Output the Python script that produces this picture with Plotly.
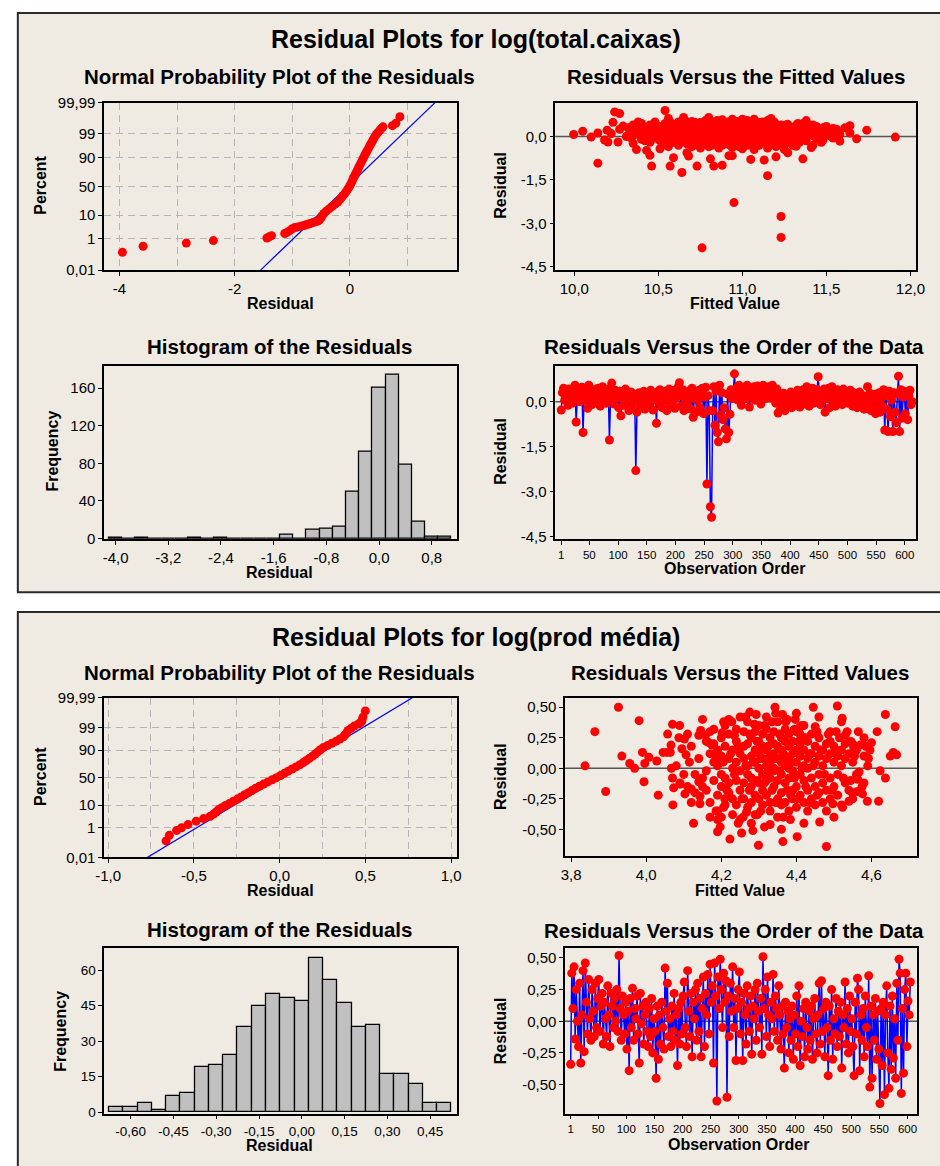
import plotly.graph_objects as go
from statistics import NormalDist

FONT = "Liberation Sans"
W, H = 940, 1166
RED = "#FF0000"
BLUE = "#0000FF"
PANEL_BG = "#EFEBE2"
GRID = "#B4B4B4"
MSIZE = 9

# ======================= PANEL 1 : log(total.caixas) =======================
npp1_points = [
    (-3.95, 0.17), (-3.59, 0.39), (-2.84, 0.59), (-2.37, 0.80),
    (-1.44, 1.10), (-1.40, 1.25), (-1.36, 1.43),
    (-1.13, 1.83), (-1.09, 2.05), (-1.05, 2.40), (-1.00, 3.00),
    (-0.95, 3.40), (-0.90, 3.60), (-0.85, 3.85), (-0.80, 4.10), (-0.76, 4.40), (-0.72, 4.70),
    (-0.68, 5.00), (-0.64, 5.40), (-0.60, 5.80), (-0.56, 6.20), (-0.53, 6.68),
    (-0.50, 8.08), (-0.48, 9.68), (-0.45, 11.51), (-0.41, 13.57), (-0.36, 15.87), (-0.31, 18.41),
    (-0.26, 21.19), (-0.21, 24.20), (-0.175, 27.43), (-0.145, 30.85), (-0.115, 34.46), (-0.082, 38.21),
    (-0.055, 42.07), (-0.03, 46.02), (-0.005, 50.0), (0.015, 53.98), (0.035, 57.93), (0.052, 61.79),
    (0.07, 65.54), (0.09, 69.15), (0.108, 72.57), (0.128, 75.80), (0.146, 78.81), (0.165, 81.59),
    (0.185, 84.13), (0.205, 86.43), (0.225, 88.49), (0.243, 90.32), (0.262, 91.92), (0.283, 93.32),
    (0.305, 94.52), (0.326, 95.54), (0.347, 96.41), (0.367, 97.13), (0.39, 97.72), (0.41, 98.21),
    (0.432, 98.61), (0.46, 98.93), (0.49, 99.18), (0.525, 99.38), (0.56, 99.53), (0.575, 99.59),
    (0.74, 99.65), (0.80, 99.75), (0.87, 99.90),
]
npp1_line_resid = [-1.55, 1.48]
npp1_line_pct = [0.01, 99.99]

hist1_mid = [-4.0, -3.8, -3.6, -3.4, -3.2, -3.0, -2.8, -2.6, -2.4, -2.2, -2.0, -1.8, -1.6,
             -1.4, -1.2, -1.0, -0.8, -0.6, -0.4, -0.2, 0.0, 0.2, 0.4, 0.6, 0.8, 1.0]
hist1_count = [1, 0, 1, 0, 0, 0, 1, 0, 1, 0, 0, 0, 0,
               4, 0, 9, 10, 12, 50, 92, 160, 174, 78, 18, 2, 2]
hist1_binw = 0.2

fit1_points = [
    (9.996, 0.07), (10.05, 0.18), (10.10, -0.02), (10.14, 0.12), (10.14, -0.92), (10.18, -0.12),
    (10.20, -0.19), (10.195, 0.22), (10.22, 0.10), (10.23, 0.49), (10.24, 0.85), (10.27, 0.79),
    (10.26, -0.19), (10.27, 0.25), (10.29, 0.36), (10.31, 0.00),
    (10.32, 0.05), (10.32, 0.30), (10.34, -0.05),
    (10.35, -0.23), (10.35, 0.15), (10.35, 0.40),
    (10.37, -0.45), (10.37, 0.08), (10.37, 0.28), (10.38, 0.50), (10.39, 0.12),
    (10.40, -0.10), (10.40, 0.20), (10.40, 0.45), (10.41, 0.35), (10.42, -0.15),
    (10.43, -0.48), (10.43, 0.02), (10.43, 0.30), (10.44, 0.20),
    (10.45, -0.65), (10.45, -0.20), (10.45, 0.15), (10.45, 0.40),
    (10.46, -1.02), (10.47, 0.05),
    (10.48, -0.05), (10.48, 0.25), (10.48, 0.50), (10.50, 0.20),
    (10.51, -0.42), (10.51, -0.15), (10.51, 0.10), (10.51, 0.35), (10.52, -0.05), (10.53, 0.30),
    (10.54, 0.90), (10.54, -0.28), (10.54, 0.00), (10.54, 0.22), (10.54, 0.45), (10.55, 0.12),
    (10.56, -0.35), (10.56, -0.10), (10.56, 0.30), (10.56, 0.62), (10.57, 0.50), (10.58, -0.15),
    (10.57, -1.02),
    (10.59, -0.73), (10.59, -0.20), (10.59, 0.05), (10.59, 0.18), (10.59, 0.42),
    (10.60, 0.35), (10.61, 0.10), (10.61, -0.12),
    (10.62, -0.30), (10.62, -0.05), (10.62, 0.25), (10.62, 0.50), (10.63, 0.42), (10.63, 0.02),
    (10.64, -1.24), (10.64, -0.15), (10.64, 0.12), (10.64, 0.35),
    (10.65, 0.66), (10.66, 0.28), (10.66, -0.08), (10.66, 0.55),
    (10.67, -0.56), (10.67, -0.25), (10.67, 0.00), (10.67, 0.20), (10.67, 0.45),
    (10.68, -0.67), (10.69, 0.15), (10.69, -0.25), (10.69, 0.40),
    (10.70, -0.35), (10.70, -0.10), (10.70, 0.08), (10.70, 0.30), (10.70, 0.52),
    (10.71, 0.20), (10.72, -0.05), (10.72, 0.48),
    (10.73, -1.02), (10.73, -0.20), (10.73, 0.00), (10.73, 0.15), (10.73, 0.40),
    (10.74, 0.30), (10.74, -0.30), (10.74, 0.05),
    (10.75, -0.40), (10.75, -0.05), (10.75, 0.25), (10.75, 0.48),
    (10.76, -3.84), (10.77, 0.18), (10.77, -0.20), (10.77, 0.45),
    (10.78, -0.28), (10.78, -0.12), (10.78, 0.10), (10.78, 0.35), (10.78, 0.55),
    (10.79, 0.28), (10.79, -0.05),
    (10.80, 0.66), (10.80, -0.35), (10.80, 0.02), (10.80, 0.20), (10.80, 0.42),
    (10.81, -0.77), (10.82, 0.38), (10.82, 0.05), (10.82, -0.30),
    (10.83, -1.02), (10.83, -0.22), (10.83, -0.05), (10.83, 0.15), (10.83, 0.30), (10.83, 0.50),
    (10.84, 0.22), (10.84, -0.15), (10.85, 0.55),
    (10.86, -0.40), (10.86, -0.10), (10.86, 0.08), (10.86, 0.25), (10.86, 0.45),
    (10.87, 0.15), (10.87, -0.22),
    (10.88, -0.99), (10.88, -0.30), (10.88, 0.00), (10.88, 0.35), (10.88, 0.58),
    (10.89, 0.42), (10.89, 0.08), (10.90, -0.10), (10.90, 0.32),
    (10.91, -0.18), (10.91, 0.12), (10.91, 0.28), (10.91, 0.50),
    (10.92, -0.66), (10.92, 0.20), (10.92, -0.28), (10.93, 0.48), (10.93, 0.05),
    (10.94, -0.66), (10.94, -0.38), (10.94, -0.05), (10.94, 0.18), (10.94, 0.40), (10.94, 0.60),
    (10.95, -2.28), (10.95, 0.25), (10.95, -0.15), (10.96, 0.40), (10.96, -0.02),
    (10.97, -0.25), (10.97, 0.05), (10.97, 0.30), (10.97, 0.52),
    (10.98, 0.15), (10.98, -0.35), (10.99, 0.32), (10.99, 0.00),
    (11.00, -0.42), (11.00, -0.12), (11.00, 0.10), (11.00, 0.22), (11.00, 0.45), (11.00, 0.60),
    (11.01, 0.38), (11.01, -0.22), (11.02, 0.15), (11.02, 0.50),
    (11.03, -0.30), (11.03, 0.00), (11.03, 0.35), (11.03, 0.55),
    (11.04, 0.25), (11.04, -0.10),
    (11.05, -0.79), (11.05, -0.20), (11.05, 0.15), (11.05, 0.42),
    (11.06, 0.05), (11.06, 0.32),
    (11.07, -0.45), (11.07, -0.05), (11.07, 0.25), (11.07, 0.60),
    (11.08, 0.15), (11.08, -0.25), (11.09, 0.40), (11.09, -0.10),
    (11.10, -0.30), (11.10, 0.05), (11.10, 0.20), (11.10, 0.48),
    (11.11, 0.30), (11.11, -0.02), (11.12, 0.50), (11.12, -0.20),
    (11.13, -0.81), (11.13, -0.15), (11.13, 0.10), (11.13, 0.38),
    (11.14, 0.20), (11.14, -0.05),
    (11.15, -1.35), (11.15, -0.40), (11.15, 0.00), (11.15, 0.30), (11.15, 0.55),
    (11.16, 0.40), (11.16, -0.25),
    (11.17, -0.22), (11.17, 0.15), (11.17, 0.62), (11.17, 0.45),
    (11.18, 0.05), (11.18, 0.30), (11.19, -0.12), (11.19, 0.50),
    (11.20, -0.70), (11.20, -0.35), (11.20, -0.05), (11.20, 0.25),
    (11.21, 0.15), (11.21, 0.38), (11.22, -0.28),
    (11.23, -3.48), (11.23, -2.76), (11.23, -0.15), (11.23, 0.10), (11.23, 0.40),
    (11.24, 0.22), (11.24, -0.05),
    (11.25, -0.45), (11.25, -0.25), (11.25, 0.05), (11.25, 0.30), (11.26, 0.40),
    (11.27, -0.56), (11.27, -0.10), (11.27, 0.18), (11.27, 0.42),
    (11.28, 0.05), (11.28, -0.22), (11.29, 0.32),
    (11.30, -0.30), (11.30, 0.00), (11.30, 0.25), (11.31, 0.10),
    (11.32, -0.34), (11.32, -0.05), (11.32, 0.15), (11.32, 0.38), (11.33, 0.45),
    (11.34, -0.20), (11.34, 0.10), (11.34, 0.30), (11.35, 0.20),
    (11.36, -0.77), (11.36, 0.00), (11.36, 0.45), (11.37, -0.08),
    (11.38, -0.15), (11.38, 0.20), (11.38, 0.55), (11.39, 0.35), (11.40, 0.15),
    (11.41, -0.38), (11.41, 0.05), (11.41, 0.30),
    (11.42, -0.30), (11.42, 0.15), (11.42, 0.40), (11.43, 0.00), (11.44, 0.35),
    (11.45, -0.08), (11.45, 0.25), (11.46, 0.15), (11.47, -0.20),
    (11.48, -0.12), (11.48, 0.10), (11.48, 0.30), (11.50, 0.35),
    (11.51, 0.05), (11.51, 0.22), (11.53, 0.00),
    (11.54, -0.05), (11.54, 0.15), (11.54, 0.28), (11.56, 0.25),
    (11.58, -0.16), (11.58, 0.08),
    (11.61, 0.30), (11.64, 0.37), (11.64, 0.12), (11.68, -0.08), (11.74, 0.22), (11.91, -0.02),
]

# residuals in observation order (observations 1, 3, 5, ...)
order1_resid = [
    -0.28, 0.30, 0.45, 0.05, 0.38, 0.20, -0.12, 0.42, 0.10, 0.28,
    -0.05, 0.35, 0.55, -0.68, 0.15, 0.40, 0.00, 0.30, 0.48, -1.03,
    0.22, 0.05, 0.35, -0.22, 0.55, 0.12, 0.28, -0.10, 0.40, 0.18,
    0.02, 0.32, 0.45, 0.10, -0.15, 0.25, 0.50, 0.08, 0.35, -0.05,
    0.20, 0.42, -1.28, 0.15, 0.62, 0.30, -0.08, 0.38, 0.12, 0.25,
    -0.20, 0.35, -0.47, 0.10, 0.28, -0.12, 0.42, 0.05, 0.20, -0.30,
    0.15, 0.32, -0.18, 0.05, 0.25, -2.30, -0.35, 0.12, 0.30, -0.10,
    0.22, 0.00, 0.35, -0.25, 0.18, 0.08, 0.30, -0.15, 0.38, 0.05,
    -0.28, 0.20, 0.12, -0.72, 0.32, -0.05, 0.40, 0.15, -0.20, 0.28,
    0.05, 0.35, -0.30, 0.18, 0.42, -0.12, 0.25, 0.00, 0.38, -0.22,
    0.12, 0.30, 0.50, 0.63, -0.15, 0.20, 0.40, -0.30, 0.08, 0.25,
    -0.10, 0.35, 0.15, -0.25, 0.45, -0.52, 0.10, 0.30, -0.35, 0.05,
    0.38, -0.20, 0.25, 0.45, -0.40, 0.15, 0.48, -2.75, 0.20, -0.30,
    -3.51, -3.86, -0.30, 0.50, -0.79, 0.35, -1.03, -1.34, 0.55, -0.45,
    0.30, -0.60, -0.20, -0.91, -1.24, 0.25, -1.03, -0.42, 0.40, 0.10,
    0.35, 0.93, 0.20, 0.45, 0.05, 0.55, 0.30, -0.12, 0.48, 0.22,
    0.40, 0.10, 0.55, 0.28, -0.18, 0.45, 0.15, 0.35, 0.50, 0.05,
    0.30, 0.52, 0.18, 0.42, -0.08, 0.35, 0.55, 0.25, 0.10, 0.45,
    0.30, 0.50, 0.12, 0.40, 0.55, 0.20, 0.35, -0.05, 0.42, -0.38,
    0.15, -0.25, 0.05, -0.15, 0.28, -0.30, 0.10, 0.22, -0.12, 0.05,
    0.32, -0.20, 0.15, 0.00, 0.28, -0.10, 0.38, 0.08, -0.18, 0.25,
    0.05, 0.40, -0.08, 0.30, 0.50, 0.12, -0.15, 0.35, 0.22, 0.45,
    -0.05, 0.30, 0.15, 0.40, 0.83, 0.20, -0.10, 0.35, 0.05, 0.42,
    -0.35, 0.25, 0.10, 0.45, -0.20, 0.30, 0.50, 0.05, 0.35, -0.15,
    0.28, 0.40, 0.02, 0.35, 0.18, -0.10, 0.42, 0.25, 0.08, 0.32,
    -0.05, 0.20, 0.38, 0.10, -0.15, 0.30, 0.05, 0.25, -0.20, 0.15,
    0.32, -0.08, 0.22, 0.00, -0.25, 0.18, 0.10, 0.50, -0.12, 0.28,
    -0.30, 0.15, -0.05, 0.25, -0.40, 0.08, -0.20, 0.30, -0.35, 0.12,
    -0.15, 0.40, -0.95, 0.20, -0.25, -1.00, 0.35, -0.50, 0.05, -1.00,
    0.30, -0.35, -0.70, 0.25, 0.85, -1.00, 0.40, -0.55, 0.15, 0.35,
    -0.40, 0.30, -0.60, 0.20, 0.38, -0.10, 0.00,
]
order1_obs = list(range(1, 2 * len(order1_resid), 2))

# ======================= PANEL 2 : log(prod média) =======================
npp2_points = [
    (-0.662, 0.159), (-0.643, 0.357), (-0.60, 0.695), (-0.572, 0.964), (-0.534, 1.43),
    (-0.486, 2.12), (-0.443, 2.81),
    (-0.405, 3.59), (-0.385, 4.46), (-0.37, 5.48), (-0.357, 6.68), (-0.337, 8.08), (-0.315, 9.68),
    (-0.292, 11.51), (-0.27, 13.57), (-0.246, 15.87), (-0.224, 18.41), (-0.203, 21.19),
    (-0.182, 24.20), (-0.161, 27.43), (-0.14, 30.85), (-0.117, 34.46), (-0.093, 38.21),
    (-0.068, 42.07), (-0.043, 46.02), (-0.018, 50.0), (0.006, 53.98), (0.028, 57.93),
    (0.05, 61.79), (0.073, 65.54), (0.096, 69.15), (0.118, 72.57), (0.138, 75.80),
    (0.156, 78.81), (0.174, 81.59), (0.192, 84.13), (0.208, 86.43), (0.223, 88.49),
    (0.238, 90.32), (0.255, 91.92), (0.28, 93.32), (0.305, 94.52), (0.33, 95.54),
    (0.352, 96.41), (0.372, 97.13), (0.382, 97.72), (0.392, 98.21), (0.40, 98.61),
    (0.418, 98.93), (0.435, 99.18), (0.46, 99.38), (0.473, 99.48), (0.48, 99.60),
    (0.486, 99.76), (0.50, 99.906),
]
npp2_line_resid = [-0.772, 0.774]
npp2_line_pct = [0.01, 99.99]

hist2_mid = [-0.65, -0.60, -0.55, -0.50, -0.45, -0.40, -0.35, -0.30, -0.25, -0.20, -0.15, -0.10,
             -0.05, 0.00, 0.05, 0.10, 0.15, 0.20, 0.25, 0.30, 0.35, 0.40, 0.45, 0.50]
hist2_count = [2, 2, 4, 1, 7, 8, 19, 20, 24, 36, 45, 50,
               48, 47, 65, 56, 46, 36, 37, 16, 16, 12, 4, 4]
hist2_binw = 0.05

fit2_points = [
    (3.837, 0.02), (3.863, 0.30), (3.892, -0.19), (3.926, 0.50), (3.935, 0.10), (3.956, 0.04),
    (3.969, 0.00), (3.981, 0.39), (3.99, 0.13), (3.994, -0.11), (3.996, 0.04), (4.007, 0.09),
    (4.028, 0.06), (4.032, -0.22), (4.045, 0.13), (4.055, 0.13), (4.064, 0.13), (4.057, 0.28),
    (4.066, 0.19), (4.07, 0.36), (4.089, 0.35), (4.071, -0.30), (4.067, 0.00), (4.07, -0.08),
    (4.073, -0.16), (4.087, 0.25), (4.102, 0.24), (4.095, 0.16), (4.106, 0.11), (4.115, 0.05),
    (4.09, -0.13), (4.103, -0.21), (4.11, -0.15), (4.12, -0.17), (4.126, -0.45), (4.13, -0.05),
    (4.14, -0.11), (4.15, -0.08), (4.14, 0.27), (4.145, 0.31), (4.158, 0.27), (4.143, -0.23),
    (4.143, -0.29), (4.167, 0.21), (4.175, 0.19), (4.184, 0.11), (4.193, 0.05), (4.186, -0.35),
    (4.19, -0.42), (4.197, -0.48), (4.19, -0.52), (4.206, 0.38), (4.202, 0.29), (4.206, -0.32),
    (4.209, -0.25), (4.223, -0.58), (4.228, 0.38), (4.235, 0.27), (4.25, 0.42), (4.254, -0.53),
    (4.258, -0.40), (4.267, -0.36), (4.276, 0.46), (4.284, -0.51), (4.293, 0.44), (4.288, 0.36),
    (4.296, -0.38), (4.299, -0.63), (4.33, -0.46), (4.343, 0.50), (4.363, 0.44), (4.372, 0.38),
    (4.364, -0.60), (4.384, -0.42), (4.397, 0.40), (4.393, 0.31), (4.41, 0.34), (4.402, -0.56),
    (4.445, 0.50), (4.45, 0.34), (4.462, -0.44), (4.48, -0.64), (4.49, 0.30), (4.506, 0.30),
    (4.509, 0.51), (4.522, 0.41), (4.497, -0.29), (4.523, -0.32), (4.54, -0.27), (4.549, -0.20),
    (4.562, -0.19), (4.576, -0.21), (4.589, -0.27), (4.619, -0.27), (4.623, -0.02), (4.637, -0.08),
    (4.637, 0.44), (4.615, 0.30), (4.65, 0.10), (4.658, 0.13), (4.667, 0.11), (4.663, 0.34),
    (4.60, 0.21), (4.596, 0.15), (4.592, 0.08), (4.567, -0.03), (4.563, -0.09), (4.53, 0.27),
    (4.545, 0.22), (4.553, 0.17), (4.57, 0.19),
    (4.08, 0.02), (4.10, -0.05), (4.12, 0.18), (4.13, -0.20), (4.14, 0.08), (4.15, -0.15),
    (4.11, 0.28), (4.09, -0.12), (4.12, -0.28), (4.15, 0.40),
    (4.16, 0.22), (4.16, -0.02), (4.16, -0.18),
    (4.17, 0.12), (4.17, -0.28), (4.17, 0.30), (4.17, -0.40),
    (4.18, 0.05), (4.18, -0.10), (4.18, 0.20), (4.18, 0.32),
    (4.19, -0.22), (4.19, 0.15), (4.19, -0.35), (4.19, 0.02),
    (4.20, 0.25), (4.20, -0.05), (4.20, -0.15), (4.20, 0.10), (4.20, -0.40),
    (4.205, 0.05), (4.215, -0.18), (4.225, 0.12), (4.235, -0.05), (4.245, 0.18),
    (4.21, -0.30), (4.21, 0.18), (4.21, -0.08), (4.21, 0.35),
    (4.22, 0.08), (4.22, -0.20), (4.22, 0.28), (4.22, -0.12), (4.22, 0.40),
    (4.23, -0.25), (4.23, 0.00), (4.23, 0.15), (4.23, -0.38),
    (4.24, 0.22), (4.24, -0.10), (4.24, 0.05), (4.24, -0.30), (4.24, 0.32),
    (4.245, -0.45), (4.255, -0.25), (4.265, 0.02), (4.265, 0.42),
    (4.25, -0.18), (4.25, 0.12), (4.25, -0.02), (4.25, -0.42),
    (4.26, 0.30), (4.26, -0.25), (4.26, 0.08), (4.26, -0.12), (4.26, 0.18),
    (4.27, -0.05), (4.27, 0.20), (4.27, -0.32), (4.27, 0.02), (4.27, 0.38),
    (4.275, 0.28), (4.275, -0.18), (4.285, 0.05),
    (4.28, 0.10), (4.28, -0.15), (4.28, 0.25), (4.28, -0.28), (4.28, -0.08), (4.28, -0.45),
    (4.29, -0.22), (4.29, 0.05), (4.29, 0.15), (4.29, -0.38), (4.29, 0.30),
    (4.295, -0.10), (4.295, 0.22), (4.305, 0.08), (4.305, -0.35),
    (4.30, 0.00), (4.30, -0.12), (4.30, 0.22), (4.30, 0.35), (4.30, -0.25), (4.30, 0.12),
    (4.31, -0.30), (4.31, 0.08), (4.31, -0.05), (4.31, 0.18), (4.31, 0.28), (4.31, -0.18),
    (4.315, 0.35), (4.315, -0.12), (4.315, -0.48),
    (4.32, 0.15), (4.32, -0.22), (4.32, 0.02), (4.32, 0.32), (4.32, -0.10), (4.32, 0.42),
    (4.325, 0.18), (4.325, -0.02),
    (4.33, -0.08), (4.33, 0.25), (4.33, -0.28), (4.33, 0.10), (4.33, 0.05), (4.33, -0.35),
    (4.335, -0.18), (4.335, 0.38),
    (4.34, 0.20), (4.34, -0.15), (4.34, 0.00), (4.34, 0.30), (4.34, -0.02), (4.34, 0.12),
    (4.345, 0.08), (4.345, -0.28), (4.345, 0.45),
    (4.35, -0.25), (4.35, 0.08), (4.35, 0.18), (4.35, -0.10), (4.35, 0.38), (4.35, -0.40),
    (4.355, 0.28), (4.355, -0.02),
    (4.36, 0.05), (4.36, -0.20), (4.36, 0.25), (4.36, 0.15), (4.36, -0.05), (4.36, -0.30),
    (4.36, -0.50), (4.365, 0.12), (4.365, -0.40),
    (4.37, -0.12), (4.37, 0.22), (4.37, 0.02), (4.37, -0.28), (4.37, 0.10), (4.37, 0.32),
    (4.375, -0.18), (4.375, 0.40),
    (4.38, 0.18), (4.38, -0.08), (4.38, -0.35), (4.38, 0.28), (4.38, 0.00), (4.38, 0.08),
    (4.385, 0.05), (4.385, -0.22),
    (4.39, -0.18), (4.39, 0.12), (4.39, -0.02), (4.39, 0.22), (4.39, -0.25),
    (4.395, 0.32), (4.395, -0.08),
    (4.40, 0.05), (4.40, -0.15), (4.40, 0.30), (4.40, -0.32), (4.40, 0.15), (4.40, 0.45),
    (4.405, 0.22), (4.405, -0.25),
    (4.41, -0.05), (4.41, 0.20), (4.41, -0.22), (4.41, 0.10), (4.41, 0.28),
    (4.415, 0.00), (4.415, 0.35),
    (4.42, 0.02), (4.42, -0.28), (4.42, 0.15), (4.42, -0.10), (4.42, 0.35), (4.42, -0.45),
    (4.425, -0.15), (4.425, 0.25),
    (4.43, -0.18), (4.43, 0.08), (4.43, 0.22), (4.43, -0.35), (4.43, 0.00),
    (4.435, 0.12), (4.435, -0.28),
    (4.44, 0.12), (4.44, -0.08), (4.44, -0.25), (4.44, 0.28), (4.445, 0.02),
    (4.45, -0.15), (4.45, 0.05), (4.45, 0.18), (4.45, -0.30),
    (4.455, -0.22), (4.455, 0.30),
    (4.46, 0.10), (4.46, -0.20), (4.46, 0.25), (4.46, -0.05), (4.46, 0.42), (4.465, 0.15),
    (4.47, -0.28), (4.47, 0.02), (4.47, 0.15), (4.47, -0.12), (4.475, -0.05),
    (4.48, 0.20), (4.48, -0.18), (4.48, 0.08), (4.48, -0.35), (4.485, 0.28),
    (4.49, -0.08), (4.49, 0.12), (4.49, -0.25), (4.49, 0.22), (4.495, -0.18),
    (4.50, 0.05), (4.50, -0.15), (4.50, 0.18), (4.50, -0.40), (4.505, 0.12),
    (4.51, -0.22), (4.51, 0.10), (4.51, -0.05), (4.515, 0.25),
    (4.52, 0.15), (4.52, -0.30), (4.52, 0.02), (4.52, 0.38), (4.525, -0.08),
    (4.53, -0.12), (4.53, 0.08), (4.53, 0.20), (4.535, 0.30),
    (4.54, -0.18), (4.54, 0.12), (4.545, -0.10),
    (4.55, 0.05), (4.55, -0.25), (4.55, 0.20), (4.555, 0.10),
    (4.56, -0.05), (4.56, 0.15), (4.565, 0.30),
    (4.575, -0.15), (4.58, 0.10), (4.58, -0.12), (4.58, 0.25), (4.585, 0.18),
    (4.59, 0.02),
]

order2_resid = [
    -0.34, 0.38, 0.10, 0.43, -0.14, 0.25, 0.00, -0.20, 0.30, -0.33,
    0.05, 0.40, -0.24, 0.46, 0.15, -0.10, 0.33, 0.02, -0.15, 0.25,
    0.08, -0.12, 0.30, -0.05, 0.18, 0.33, -0.08, 0.12, 0.22, -0.18,
    0.15, 0.02, -0.12, 0.28, 0.05, -0.20, 0.22, 0.12, -0.05, 0.18,
    0.00, 0.25, -0.08, 0.52, 0.10, -0.15, 0.20, 0.05, -0.10, 0.15,
    -0.22, 0.08, -0.39, 0.18, -0.05, 0.26, -0.15, 0.10, 0.02, 0.20,
    -0.10, -0.33, 0.22, -0.02, 0.12, -0.18, 0.05, 0.15, -0.08, -0.20,
    0.10, -0.12, 0.18, -0.25, 0.02, -0.08, -0.45, 0.12, -0.30, 0.05,
    -0.18, 0.15, -0.05, -0.22, 0.42, 0.08, 0.30, -0.12, 0.02, -0.20,
    0.12, -0.08, 0.22, -0.15, 0.05, -0.35, 0.10, -0.18, 0.15, -0.10,
    0.20, 0.31, -0.05, -0.20, 0.40, 0.08, -0.12, 0.22, -0.28, 0.15,
    0.02, 0.25, -0.15, 0.30, -0.08, 0.18, -0.28, 0.10, 0.35, -0.20,
    0.22, 0.05, 0.37, -0.10, 0.45, 0.15, 0.28, -0.33, 0.46, 0.20,
    -0.63, 0.35, 0.10, 0.49, 0.25, -0.05, 0.38, 0.15, 0.32, -0.60,
    0.20, -0.12, 0.30, 0.08, 0.43, -0.05, 0.18, -0.31, 0.10, 0.25,
    0.39, -0.10, 0.15, -0.31, 0.22, 0.05, -0.18, 0.28, 0.10, -0.08,
    0.20, -0.26, 0.12, 0.02, 0.25, -0.15, 0.30, 0.08, -0.05, 0.18,
    -0.26, 0.51, 0.10, 0.25, -0.12, 0.35, 0.05, -0.20, 0.15, 0.02,
    0.37, -0.08, 0.20, 0.10, -0.15, 0.28, 0.05, -0.22, 0.12, -0.10,
    -0.37, 0.15, -0.05, 0.08, -0.25, 0.02, -0.15, 0.12, -0.30, 0.05,
    -0.10, 0.20, -0.20, 0.28, -0.35, 0.00, -0.12, 0.10, -0.28, 0.15,
    -0.05, -0.22, 0.08, -0.15, 0.12, -0.30, 0.02, 0.18, -0.10, -0.25,
    0.05, 0.30, -0.18, 0.32, -0.08, 0.10, -0.28, 0.15, -0.05, -0.43,
    0.12, -0.15, 0.25, -0.30, 0.02, -0.10, 0.18, -0.20, 0.08, -0.12,
    0.15, -0.37, 0.05, -0.05, 0.31, -0.18, 0.10, -0.25, 0.20, -0.08,
    0.02, -0.20, -0.43, 0.15, -0.10, 0.34, 0.25, -0.39, 0.05, -0.15,
    0.10, -0.28, 0.20, -0.05, -0.20, 0.36, -0.52, 0.12, -0.45, 0.05,
    -0.15, 0.18, -0.30, 0.08, -0.22, -0.65, 0.10, -0.35, 0.15, -0.58,
    0.05, 0.28, -0.25, -0.53, 0.12, -0.38, 0.20, -0.29, 0.02, -0.45,
    0.30, -0.15, 0.49, 0.38, -0.57, 0.10, -0.41, 0.25, 0.38, -0.20,
    0.16, 0.05, 0.31,
]
order2_obs = list(range(1, 2 * len(order2_resid), 2))

# ---------------- tick labels ----------------
npp_pct_ticks = [0.01, 1, 10, 50, 90, 99, 99.99]
npp_pct_text = ["0,01", "1", "10", "50", "90", "99", "99,99"]
npp1_x_ticks = [-4, -2, 0]
npp1_x_text = ["-4", "-2", "0"]
npp1_x_grid = [-3, -1, 1]
npp2_x_ticks = [-1.0, -0.5, 0.0, 0.5, 1.0]
npp2_x_text = ["-1,0", "-0,5", "0,0", "0,5", "1,0"]
npp2_x_grid = [-0.75, -0.25, 0.25, 0.75]
fit1_x_ticks = [10.0, 10.5, 11.0, 11.5, 12.0]
fit1_x_text = ["10,0", "10,5", "11,0", "11,5", "12,0"]
res1_y_ticks = [-4.5, -3.0, -1.5, 0.0]
res1_y_text = ["-4,5", "-3,0", "-1,5", "0,0"]
hist1_x_ticks = [-4.0, -3.2, -2.4, -1.6, -0.8, 0.0, 0.8]
hist1_x_text = ["-4,0", "-3,2", "-2,4", "-1,6", "-0,8", "0,0", "0,8"]
hist1_y_ticks = [0, 40, 80, 120, 160]
obs_ticks = [1, 50, 100, 150, 200, 250, 300, 350, 400, 450, 500, 550, 600]
fit2_x_ticks = [3.8, 4.0, 4.2, 4.4, 4.6]
fit2_x_text = ["3,8", "4,0", "4,2", "4,4", "4,6"]
res2_y_ticks = [-0.5, -0.25, 0.0, 0.25, 0.5]
res2_y_text = ["-0,50", "-0,25", "0,00", "0,25", "0,50"]
hist2_x_ticks = [-0.60, -0.45, -0.30, -0.15, 0.0, 0.15, 0.30, 0.45]
hist2_x_text = ["-0,60", "-0,45", "-0,30", "-0,15", "0,00", "0,15", "0,30", "0,45"]
hist2_y_ticks = [0, 15, 30, 45, 60]

# ---------------- helpers ----------------
ND = NormalDist()
Z_MAX = ND.inv_cdf(0.9999)


def zscore(pcts):
    return [ND.inv_cdf(p / 100.0) for p in pcts]


fig = go.Figure()


def set_axes(n, box, xr, yr, xtv, xtt, ytv, ytt, xsize=15, ysize=15, grid=False,
             xminor=None):
    x0, x1, y0, y1 = box
    sfx = "" if n == 1 else str(n)
    base = dict(showline=True, mirror=True, linecolor="black", linewidth=1.5,
                ticks="outside", ticklen=4, tickwidth=1, tickcolor="black",
                zeroline=False, fixedrange=True, tickmode="array", showgrid=grid)
    if grid:
        base.update(gridcolor=GRID, griddash="7px,5px", gridwidth=1.3)
    xa = dict(base, domain=[x0 / W, x1 / W], range=xr, anchor="y" + sfx,
              tickvals=xtv, ticktext=xtt,
              tickfont=dict(family=FONT, size=xsize, color="black"))
    ya = dict(base, domain=[1 - y1 / H, 1 - y0 / H], range=yr, anchor="x" + sfx,
              tickvals=ytv, ticktext=ytt,
              tickfont=dict(family=FONT, size=ysize, color="black"))
    if xminor is not None:
        xa["minor"] = dict(tickmode="array", tickvals=xminor, showgrid=True,
                           gridcolor=GRID, griddash="7px,5px", gridwidth=1.3,
                           ticks="")
    fig.update_layout(**{"xaxis" + sfx: xa, "yaxis" + sfx: ya})


def npp(n, points, line_r, line_p):
    sfx = "" if n == 1 else str(n)
    fig.add_trace(go.Scatter(x=line_r, y=zscore(line_p), mode="lines",
                             line=dict(color=BLUE, width=1.3),
                             xaxis="x" + sfx, yaxis="y" + sfx, hoverinfo="skip"))
    fig.add_trace(go.Scatter(x=[p[0] for p in points], y=zscore([p[1] for p in points]),
                             mode="markers", marker=dict(color=RED, size=MSIZE),
                             xaxis="x" + sfx, yaxis="y" + sfx))


def hist(n, mids, counts, w):
    sfx = str(n)
    fig.add_trace(go.Bar(x=mids, y=counts, width=w,
                         marker=dict(color="#C0C0C0", line=dict(color="black", width=1.3)),
                         xaxis="x" + sfx, yaxis="y" + sfx))


def scatter(n, points):
    sfx = str(n)
    fig.add_trace(go.Scatter(x=[p[0] for p in points], y=[p[1] for p in points],
                             mode="markers", marker=dict(color=RED, size=MSIZE),
                             xaxis="x" + sfx, yaxis="y" + sfx))


def order(n, obs, resid):
    sfx = str(n)
    fig.add_trace(go.Scatter(x=obs, y=resid, mode="lines+markers",
                             line=dict(color=BLUE, width=1.5),
                             marker=dict(color=RED, size=MSIZE),
                             xaxis="x" + sfx, yaxis="y" + sfx))


obs_text = [str(v) for v in obs_ticks]
zt = zscore(npp_pct_ticks)

set_axes(1, (97, 457, 95, 265), [-4.267, 1.866], [-Z_MAX, Z_MAX],
         npp1_x_ticks, npp1_x_text, zt, npp_pct_text, grid=True, xminor=npp1_x_grid)
set_axes(2, (557, 925, 95, 265), [9.887, 12.035], [-4.61, 1.17],
         fit1_x_ticks, fit1_x_text, res1_y_ticks, res1_y_text)
set_axes(3, (97, 457, 362, 538), [-4.174, 1.187], [-0.7, 183.7],
         hist1_x_ticks, hist1_x_text, hist1_y_ticks, [str(v) for v in hist1_y_ticks])
set_axes(4, (557, 925, 362, 538), [-9.3, 620], [-4.59, 1.2],
         obs_ticks, obs_text, res1_y_ticks, res1_y_text, xsize=11.5)
set_axes(5, (97, 457, 699, 861), [-1.023, 1.036], [-Z_MAX, Z_MAX],
         npp2_x_ticks, npp2_x_text, zt, npp_pct_text, grid=True, xminor=npp2_x_grid)
set_axes(6, (567, 926, 699, 860), [3.784, 4.722], [-0.722, 0.577],
         fit2_x_ticks, fit2_x_text, res2_y_ticks, res2_y_text)
set_axes(7, (97, 457, 953, 1121), [-0.693, 0.545], [-0.6, 69.3],
         hist2_x_ticks, hist2_x_text, hist2_y_ticks, [str(v) for v in hist2_y_ticks],
         xsize=13.5, ysize=13.5)
set_axes(8, (567, 926, 953, 1121), [-8.8, 617.4], [-0.73, 0.578],
         obs_ticks, obs_text, res2_y_ticks, res2_y_text, xsize=11.5)

npp(1, npp1_points, npp1_line_resid, npp1_line_pct)
scatter(2, fit1_points)
hist(3, hist1_mid, hist1_count, hist1_binw)
order(4, order1_obs, order1_resid)
npp(5, npp2_points, npp2_line_resid, npp2_line_pct)
scatter(6, fit2_points)
hist(7, hist2_mid, hist2_count, hist2_binw)
order(8, order2_obs, order2_resid)

shapes = [
    dict(type="rect", xref="paper", yref="paper", x0=9 / W, x1=960 / W,
         y0=1 - 592 / H, y1=1 - 4 / H, fillcolor=PANEL_BG,
         line=dict(color="#2A2A2A", width=2), layer="below"),
    dict(type="rect", xref="paper", yref="paper", x0=9 / W, x1=960 / W,
         y0=1 - 1190 / H, y1=1 - 612 / H, fillcolor=PANEL_BG,
         line=dict(color="#2A2A2A", width=2), layer="below"),
]
for n in (2, 4, 6, 8):
    shapes.append(dict(type="line", xref=f"x{n} domain", yref=f"y{n}", x0=0, x1=1,
                       y0=0, y1=0, line=dict(color="#555555", width=1.5), layer="below"))

ann = []


def text(t, cx, cy, size, angle=0):
    ann.append(dict(text=f"<b>{t}</b>", x=cx / W, y=1 - cy / H, xref="paper", yref="paper",
                    xanchor="center", yanchor="middle", showarrow=False, textangle=angle,
                    font=dict(family=FONT, size=size, color="black")))


text("Residual Plots for log(total.caixas)", 476, 30, 25)
text("Residual Plots for log(prod média)", 476, 637, 25)
for t, cx, cy in [("Normal Probability Plot of the Residuals", 276, 69),
                  ("Residuals Versus the Fitted Values", 741, 69),
                  ("Histogram of the Residuals", 276, 342),
                  ("Residuals Versus the Order of the Data", 739, 342),
                  ("Normal Probability Plot of the Residuals", 276, 673.5),
                  ("Residuals Versus the Fitted Values", 745, 673.5),
                  ("Histogram of the Residuals", 276, 934.5),
                  ("Residuals Versus the Order of the Data", 739, 935)]:
    text(t, cx, cy, 20.5)
for t, cx, cy in [("Residual", 277, 298.5), ("Fitted Value", 740, 298.5),
                  ("Residual", 276, 571.5), ("Observation Order", 740, 568),
                  ("Residual", 277, 895), ("Fitted Value", 745, 895),
                  ("Residual", 276, 1153), ("Observation Order", 744, 1152)]:
    text(t, cx, cy, 16)
for t, cx, cy in [("Percent", 32, 179), ("Residual", 501, 179),
                  ("Frequency", 44, 449), ("Residual", 501, 449),
                  ("Percent", 32, 779), ("Residual", 501, 779),
                  ("Frequency", 53, 1037), ("Residual", 501, 1037)]:
    text(t, cx, cy, 16, angle=-90)

fig.update_layout(width=W, height=H, margin=dict(l=0, r=0, t=0, b=0),
                  paper_bgcolor="white", plot_bgcolor="white", showlegend=False,
                  bargap=0, shapes=shapes, annotations=ann)

fig.write_html("out.html", config={"displayModeBar": False},
               post_script="document.body.style.margin='0px';"
                           "document.body.style.padding='0px';"
                           "document.body.style.overflow='hidden';")
